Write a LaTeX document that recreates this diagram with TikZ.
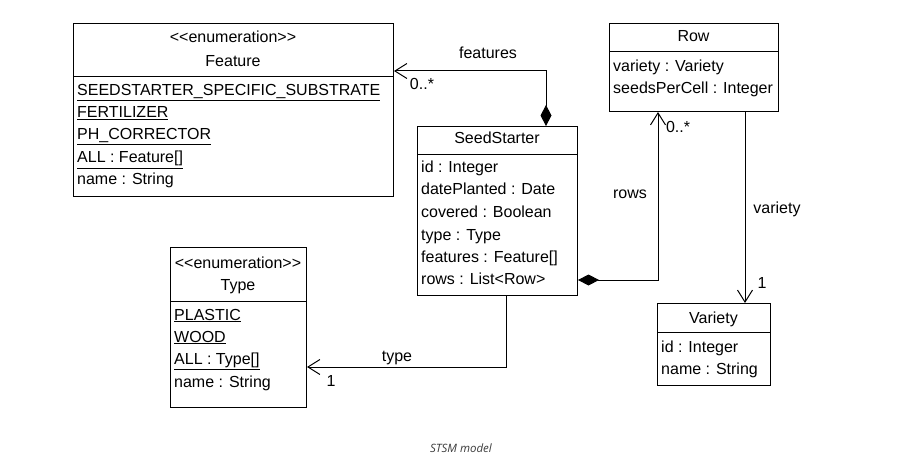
\documentclass[tikz,border=0pt]{standalone}
\usepackage{fontspec}
\setmainfont{Liberation Sans}
\newfontfamily\captionfont{Open Sans}
\usetikzlibrary{arrows.meta}
\tikzset{
  uml/.style={line width=1pt},
  class-box/.style={uml, draw=black, fill=white, anchor=north west, inner sep=0pt},
  class-text/.style={anchor=west, inner sep=0pt, font=\fontsize{16}{18}\selectfont,
    text height=12pt, text depth=0pt},
  class-title/.style={class-text, anchor=center},
  assoc-label/.style={class-title},
  assoc/.style={uml, -{Straight Barb[length=12pt,width=15pt,line width=1pt]}},
  comp/.style={uml, {Diamond[length=21pt,width=11pt]}-{Straight Barb[length=12pt,width=15pt,line width=1pt]}}
}
\definecolor{captiongrey}{RGB}{60,60,60}
\newcommand{\umldivider}[2]{
  \draw[uml] ([yshift=-#2pt]#1.north west) -- ([yshift=-#2pt]#1.north east);
}
\newcommand{\stereo}[1]{\textless\kern0pt\textless\kern0pt#1\kern0pt\textgreater\kern0pt\textgreater}

\begin{document}
\begin{tikzpicture}[x=1pt, y=-1pt]
  \useasboundingbox (0,0) rectangle (907,465);
  % Feature (enumeration)
  \node[class-box, minimum width=320pt, minimum height=173pt] (feature) at (73,23) {};
  \umldivider{feature}{54}
  \node[class-title] (feature-st) at (233,37) {\stereo{enumeration}};
  \node[class-title] (feature-name) at (233,61) {Feature};
  \node[class-text] (feature-a1) at (77,90) {\underline{SEEDSTARTER\_SPECIFIC\_SUBSTRATE}};
  \node[class-text] (feature-a2) at (77,112) {\underline{FERTILIZER}};
  \node[class-text] (feature-a3) at (77,134) {\underline{PH\_CORRECTOR}};
  \node[class-text] (feature-a4) at (77,157) {\underline{ALL : Feature[]}};
  \node[class-text] (feature-a5) at (77,179) {name : String};
  % SeedStarter
  \node[class-box, minimum width=160pt, minimum height=169pt] (seedstarter) at (417,126) {};
  \umldivider{seedstarter}{29}
  \node[class-title] (seedstarter-name) at (497,138) {SeedStarter};
  \node[class-text] (seedstarter-a1) at (421,167) {id : Integer};
  \node[class-text] (seedstarter-a2) at (421,189) {datePlanted : Date};
  \node[class-text] (seedstarter-a3) at (421,212) {covered : Boolean};
  \node[class-text] (seedstarter-a4) at (421,234) {type : Type};
  \node[class-text] (seedstarter-a5) at (421,256) {features : Feature[]};
  \node[class-text] (seedstarter-a6) at (421,278) {rows : List\textless Row\textgreater};
  % Row
  \node[class-box, minimum width=169pt, minimum height=88pt] (row) at (609,23) {};
  \umldivider{row}{29}
  \node[class-title] (row-name) at (693.5,36) {Row};
  \node[class-text] (row-a1) at (613,66) {variety : Variety};
  \node[class-text] (row-a2) at (613,88) {seedsPerCell : Integer};
  % Type (enumeration)
  \node[class-box, minimum width=136pt, minimum height=160pt] (type) at (170,247) {};
  \umldivider{type}{54}
  \node[class-title] (type-st) at (238,262) {\stereo{enumeration}};
  \node[class-title] (type-name) at (238,284) {Type};
  \node[class-text] (type-a1) at (174,314) {\underline{PLASTIC}};
  \node[class-text] (type-a2) at (174,336) {\underline{WOOD}};
  \node[class-text] (type-a3) at (174,358) {\underline{ALL : Type[]}};
  \node[class-text] (type-a4) at (174,381) {name : String};
  % Variety
  \node[class-box, minimum width=113pt, minimum height=82pt] (variety) at (657,303) {};
  \umldivider{variety}{29}
  \node[class-title] (variety-name) at (713.5,317) {Variety};
  \node[class-text] (variety-a1) at (661,346) {id : Integer};
  \node[class-text] (variety-a2) at (661,368) {name : String};
  % connectors
  \draw[comp] ([xshift=129pt]seedstarter.north west) |- ([yshift=-48pt]feature.north east);
  \draw[comp] ([yshift=16pt]seedstarter.south east) -| ([xshift=49pt]row.south west);
  \draw[assoc] ([xshift=89pt]seedstarter.south west) |- ([yshift=-120pt]type.north east);
  \draw[assoc] ([xshift=136pt]row.south west) -- ([xshift=136pt]row.south west |- variety.north);
  % labels
  \node[assoc-label] (features-role) at (488,53) {features};
  \node[assoc-label] (features-mult) at (422,84) {0..*};
  \node[assoc-label] (rows-role) at (630,193) {rows};
  \node[assoc-label] (rows-mult) at (678,127) {0..*};
  \node[assoc-label] (variety-role) at (777,208) {variety};
  \node[assoc-label] (variety-mult) at (762,282) {1};
  \node[assoc-label] (type-role) at (397,355) {type};
  \node[assoc-label] (type-mult) at (331,380) {1};
  % caption
  \node[font=\captionfont\itshape\fontsize{11.5}{13}\selectfont, text=captiongrey] (caption) at (461,448) {STSM model};
\end{tikzpicture}
\end{document}
